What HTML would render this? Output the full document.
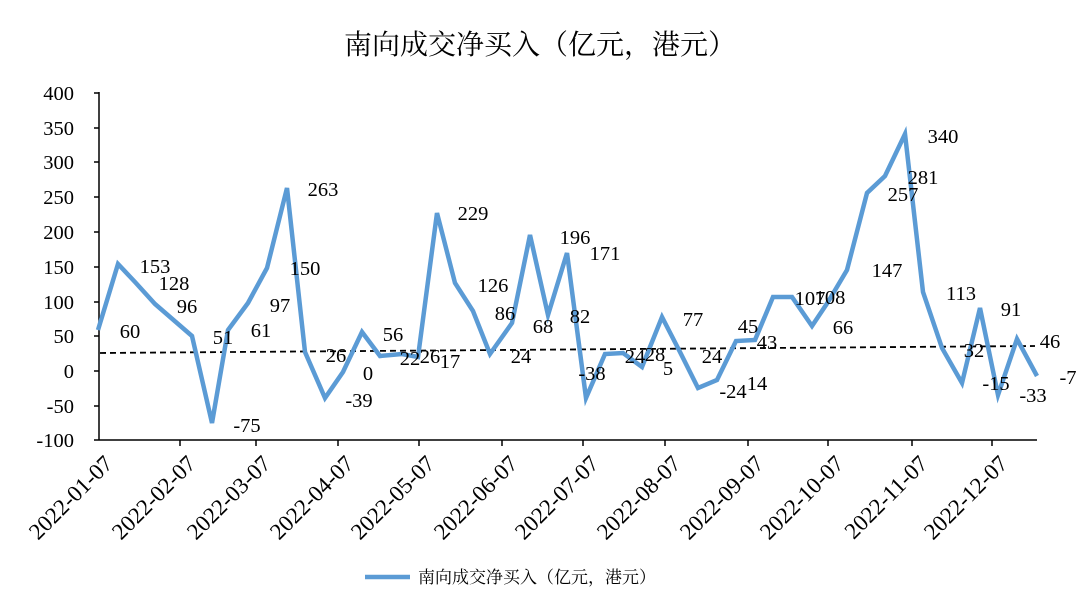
<!DOCTYPE html>
<html><head><meta charset="utf-8"><style>body{margin:0;background:#fff}svg{display:block}</style></head><body>
<svg width="1080" height="610" xmlns="http://www.w3.org/2000/svg" font-family="Liberation Serif, Noto Serif CJK SC, serif">
<text x="540" y="54" text-anchor="middle" font-size="28" font-family="Noto Serif CJK SC, serif">南向成交净买入（亿元，港元）</text>
<g stroke="#000" stroke-width="1.5">
<line x1="99" y1="92" x2="99" y2="440"/>
<line x1="99" y1="440" x2="1037" y2="440"/>
<line x1="94" y1="93" x2="99" y2="93"/><line x1="94" y1="128" x2="99" y2="128"/><line x1="94" y1="162" x2="99" y2="162"/><line x1="94" y1="197" x2="99" y2="197"/><line x1="94" y1="232" x2="99" y2="232"/><line x1="94" y1="267" x2="99" y2="267"/><line x1="94" y1="302" x2="99" y2="302"/><line x1="94" y1="336" x2="99" y2="336"/><line x1="94" y1="371" x2="99" y2="371"/><line x1="94" y1="406" x2="99" y2="406"/><line x1="94" y1="440" x2="99" y2="440"/>
<line x1="180" y1="440" x2="180" y2="446"/><line x1="256" y1="440" x2="256" y2="446"/><line x1="338" y1="440" x2="338" y2="446"/><line x1="419" y1="440" x2="419" y2="446"/><line x1="502" y1="440" x2="502" y2="446"/><line x1="583" y1="440" x2="583" y2="446"/><line x1="665" y1="440" x2="665" y2="446"/><line x1="748" y1="440" x2="748" y2="446"/><line x1="828" y1="440" x2="828" y2="446"/><line x1="912" y1="440" x2="912" y2="446"/><line x1="992" y1="440" x2="992" y2="446"/>
</g>
<g font-size="20.5" text-anchor="end">
<text x="74" y="100">400</text><text x="74" y="135">350</text><text x="74" y="169">300</text><text x="74" y="204">250</text><text x="74" y="239">200</text><text x="74" y="274">150</text><text x="74" y="309">100</text><text x="74" y="343">50</text><text x="74" y="378">0</text><text x="74" y="413">-50</text><text x="74" y="447">-100</text>
</g>
<g font-size="23" text-anchor="end">
<text transform="translate(114,465) rotate(-45)">2022-01-07</text>
<text transform="translate(197,465) rotate(-45)">2022-02-07</text>
<text transform="translate(272,465) rotate(-45)">2022-03-07</text>
<text transform="translate(355,465) rotate(-45)">2022-04-07</text>
<text transform="translate(436,465) rotate(-45)">2022-05-07</text>
<text transform="translate(519,465) rotate(-45)">2022-06-07</text>
<text transform="translate(600,465) rotate(-45)">2022-07-07</text>
<text transform="translate(682,465) rotate(-45)">2022-08-07</text>
<text transform="translate(765,465) rotate(-45)">2022-09-07</text>
<text transform="translate(845,465) rotate(-45)">2022-10-07</text>
<text transform="translate(929,465) rotate(-45)">2022-11-07</text>
<text transform="translate(1009,465) rotate(-45)">2022-12-07</text>
</g>
<line x1="100" y1="353" x2="1035" y2="346" stroke="#000" stroke-width="1.8" stroke-dasharray="6,4"/>
<polyline fill="none" stroke="#5b9bd5" stroke-width="4.5" stroke-linejoin="miter" points="98,330 118,264 135,282 155,304 192,336 212,423 228,330 248,303 267,268 287,188 305,352 325,398 343,372 362,332 380,356 402,354 418,357 437,213 455,283 473,311 490,354 512,323 530,235 548,315 567,253 586,398 605,354 623,353 642,367 662,317 680,352 698,388 717,380 736,341 755,340 773,297 792,297 812,326 828,302 847,270 867,193 885,176 905,134 923,292 942,348 962,383 980,308 998,395 1017,339 1037,376"/>
<g font-size="20.5" text-anchor="middle">
<text x="130" y="338">60</text><text x="155" y="273">153</text><text x="174" y="290">128</text><text x="187" y="313">96</text><text x="223" y="344">51</text><text x="247" y="432">-75</text><text x="261" y="337">61</text><text x="280" y="312">97</text><text x="323" y="196">263</text><text x="305" y="275">150</text><text x="336" y="362">26</text><text x="368" y="380">0</text><text x="359" y="407">-39</text><text x="393" y="341">56</text><text x="410" y="365">22</text><text x="430" y="363">26</text><text x="450" y="368">17</text><text x="473" y="220">229</text><text x="493" y="292">126</text><text x="505" y="320">86</text><text x="543" y="333">68</text><text x="521" y="363">24</text><text x="575" y="244">196</text>
<text x="605" y="260">171</text><text x="580" y="323">82</text><text x="592" y="380">-38</text><text x="635" y="363">24</text><text x="655" y="361">28</text><text x="668" y="375">5</text><text x="693" y="326">77</text><text x="712" y="363">24</text><text x="733" y="398">-24</text><text x="757" y="390">14</text><text x="748" y="333">45</text><text x="767" y="349">43</text><text x="810" y="305">107</text><text x="830" y="304">108</text><text x="843" y="334">66</text><text x="887" y="277">147</text><text x="903" y="201">257</text><text x="923" y="184">281</text><text x="943" y="143">340</text><text x="961" y="300">113</text><text x="974" y="357">32</text><text x="1011" y="316">91</text><text x="996" y="390">-15</text><text x="1033" y="402">-33</text><text x="1050" y="348">46</text><text x="1068" y="384">-7</text>
</g>
<line x1="365" y1="577" x2="410" y2="577" stroke="#5b9bd5" stroke-width="4.5"/>
<text x="418" y="583" font-size="17" font-family="Noto Serif CJK SC, serif">南向成交净买入（亿元，港元）</text>
</svg>
</body></html>
